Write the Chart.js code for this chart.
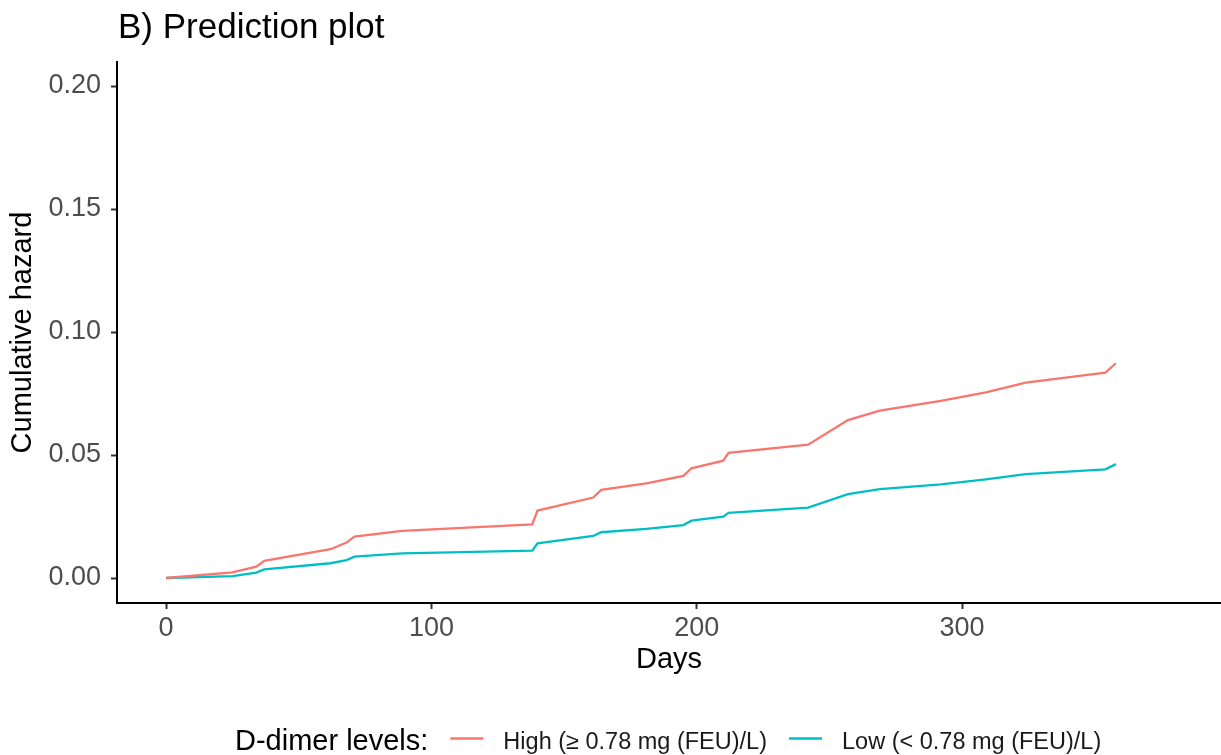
<!DOCTYPE html>
<html>
<head>
<meta charset="utf-8">
<script src="https://cdn.jsdelivr.net/npm/chart.js@4/dist/chart.umd.min.js"></script>
<style>
  html, body { margin: 0; padding: 0; background: #ffffff; }
  #wrap { width: 1221px; height: 755px; position: relative; }
</style>
</head>
<body>
<div id="wrap"><canvas id="c" width="1221" height="755"></canvas></div>
<script>
// ---- data ----
const days = [0, 25, 34, 37, 62, 68, 71, 89, 138, 140, 161, 164, 181, 195, 198, 210, 212, 242, 257, 269, 292, 309, 324, 354, 358];
const highHazard = [0, 0.0023, 0.0046, 0.0070, 0.0117, 0.0144, 0.0168, 0.0192, 0.0218, 0.0274, 0.0327, 0.0358, 0.0385, 0.0415, 0.0446, 0.0477, 0.0509, 0.0542, 0.0642, 0.0680, 0.0720, 0.0755, 0.0794, 0.0835, 0.0873];
const lowHazard  = [0, 0.0008, 0.0022, 0.0035, 0.0060, 0.0073, 0.0087, 0.0100, 0.0111, 0.0141, 0.0171, 0.0186, 0.0200, 0.0215, 0.0233, 0.0249, 0.0265, 0.0286, 0.0341, 0.0361, 0.0381, 0.0401, 0.0422, 0.0442, 0.0463];
const seriesLabels = ['High (\u2265 0.78 mg (FEU)/L)', 'Low (< 0.78 mg (FEU)/L)'];
const xTicks = [0, 100, 200, 300];
const xTickLabels = ['0', '100', '200', '300'];
const yTicks = [0, 0.05, 0.10, 0.15, 0.20];
const yTickLabels = ['0.00', '0.05', '0.10', '0.15', '0.20'];
const chartTitle = 'B) Prediction plot';
const xTitle = 'Days';
const yTitle = 'Cumulative hazard';
const legendTitle = 'D-dimer levels:';

const colors = ['#F8766D', '#00BFC4'];
const FONT = "'Liberation Sans', Arial, sans-serif";

function toPoints(xs, ys) { return xs.map((x, i) => ({ x: x, y: ys[i] })); }

const titlePlugin = {
  id: 'ggTitle',
  afterDraw(chart) {
    const ctx = chart.ctx;
    ctx.save();
    ctx.font = '35px ' + FONT;
    ctx.fillStyle = '#000000';
    ctx.textAlign = 'left';
    ctx.textBaseline = 'alphabetic';
    ctx.fillText(chartTitle, 118, 37.5);
    ctx.restore();
  }
};

const legendPlugin = {
  id: 'ggLegend',
  afterDraw(chart) {
    const ctx = chart.ctx;
    ctx.save();
    ctx.textBaseline = 'alphabetic';
    ctx.textAlign = 'left';
    let x = 235;
    ctx.font = '29px ' + FONT;
    ctx.fillStyle = '#000000';
    ctx.fillText(legendTitle, x, 749.5);
    x += ctx.measureText(legendTitle).width + 22;
    ctx.font = '23.5px ' + FONT;
    chart.data.datasets.forEach((ds, i) => {
      ctx.strokeStyle = ds.borderColor;
      ctx.lineWidth = 2.5;
      ctx.beginPath();
      ctx.moveTo(x, 738.5);
      ctx.lineTo(x + 33, 738.5);
      ctx.stroke();
      x += 33 + 20;
      ctx.fillStyle = '#1a1a1a';
      ctx.fillText(ds.label, x, 748.5);
      x += ctx.measureText(ds.label).width + 22;
    });
    ctx.restore();
  }
};

new Chart(document.getElementById('c'), {
  type: 'scatter',
  data: {
    datasets: [
      { label: seriesLabels[0], data: toPoints(days, highHazard), borderColor: colors[0], backgroundColor: colors[0],
        showLine: true, pointRadius: 0, borderWidth: 2.3, tension: 0 },
      { label: seriesLabels[1], data: toPoints(days, lowHazard), borderColor: colors[1], backgroundColor: colors[1],
        showLine: true, pointRadius: 0, borderWidth: 2.3, tension: 0 }
    ]
  },
  options: {
    responsive: false,
    animation: false,
    devicePixelRatio: 1,
    layout: { padding: { top: 62, right: 0, bottom: 78, left: 0 } },
    plugins: { legend: { display: false }, tooltip: { enabled: false }, title: { display: false } },
    scales: {
      x: {
        type: 'linear',
        min: -18.5,
        max: 397.6,
        afterBuildTicks(scale) { scale.ticks = xTicks.map(v => ({ value: v })); },
        afterFit(scale) { scale.height = 74; },
        ticks: {
          callback(value) { const i = xTicks.indexOf(value); return i >= 0 ? xTickLabels[i] : ''; },
          color: '#4D4D4D',
          font: { family: FONT, size: 27, lineHeight: 1.2 },
          padding: 3,
          maxRotation: 0,
          autoSkip: false
        },
        grid: { display: true, drawOnChartArea: false, drawTicks: true, tickLength: 6, tickColor: '#333333', tickWidth: 2 },
        border: { display: true, color: '#000000', width: 2 },
        title: { display: true, text: xTitle, color: '#000000', font: { family: FONT, size: 29, lineHeight: 1.2 }, padding: { top: 0, bottom: 0 } }
      },
      y: {
        type: 'linear',
        min: -0.01016,
        max: 0.20976,
        afterBuildTicks(scale) { scale.ticks = yTicks.map(v => ({ value: v })); },
        afterFit(scale) { scale.width = 117; },
        ticks: {
          callback(value) {
            const i = yTicks.findIndex(t => Math.abs(t - value) < 1e-9);
            return i >= 0 ? yTickLabels[i] : '';
          },
          color: '#4D4D4D',
          font: { family: FONT, size: 27, lineHeight: 1.2 },
          padding: 10,
          autoSkip: false
        },
        grid: { display: true, drawOnChartArea: false, drawTicks: true, tickLength: 6, tickColor: '#333333', tickWidth: 2 },
        border: { display: true, color: '#000000', width: 2 },
        title: { display: true, text: yTitle, color: '#000000', font: { family: FONT, size: 29, lineHeight: 1.2 }, padding: { top: 6, bottom: 0 } }
      }
    }
  },
  plugins: [titlePlugin, legendPlugin]
});
</script>
</body>
</html>
